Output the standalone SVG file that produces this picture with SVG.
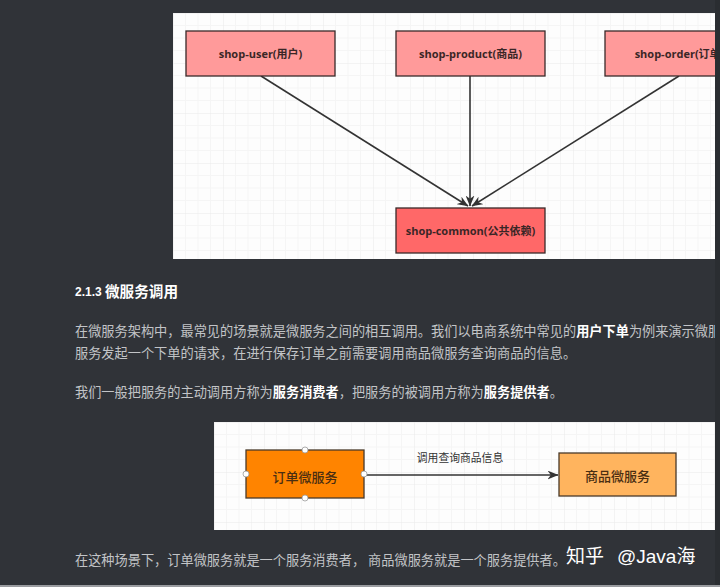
<svg xmlns="http://www.w3.org/2000/svg" width="720" height="587" viewBox="0 0 720 587">
<defs>
<style>
.bg{fill:#303338}
.panel{fill:#fdfdfd}
.box{stroke:#3a2a2a;stroke-width:1.3}
.pink{fill:#ff9a9a}
.red{fill:#ff6868}
.orange{fill:#ff8400;stroke:#4a3a2a;stroke-width:1.3}
.lorange{fill:#ffb45e;stroke:#4a3a2a;stroke-width:1.3}
.lbl{font-family:"Open Sans","Noto Sans CJK SC",sans-serif;font-weight:bold;font-size:11px;fill:#3a2626;text-anchor:middle}
.cn{font-family:"Noto Sans CJK SC",sans-serif;font-size:13px;fill:#4a2e12;text-anchor:middle;font-weight:500}
.edge{stroke:#333;stroke-width:1.6;fill:none}
.body{font-family:"Noto Sans CJK SC",sans-serif;font-size:13.2px;fill:#c2c4c7}
.b{fill:#ffffff;font-weight:bold}
.handle{fill:#ffffff;stroke:#999;stroke-width:0.8}
.wm{font-size:19px;fill:#ffffff}
</style>
<pattern id="grid" width="50" height="50" patternUnits="userSpaceOnUse" x="173" y="13">
<path d="M12.5 0V50M25 0V50M37.5 0V50M0 12.5H50M0 25H50M0 37.5H50" stroke="#f5f5f5" stroke-width="1" fill="none"/>
<path d="M0 0V50M0 0H50" stroke="#eaeaea" stroke-width="1" fill="none"/>
</pattern>
<pattern id="grid2" width="50" height="50" patternUnits="userSpaceOnUse" x="214" y="422">
<path d="M12.5 0V50M25 0V50M37.5 0V50M0 12.5H50M0 25H50M0 37.5H50" stroke="#f5f5f5" stroke-width="1" fill="none"/>
<path d="M0 0V50M0 0H50" stroke="#eaeaea" stroke-width="1" fill="none"/>
</pattern>
<clipPath id="clip1"><rect x="173" y="13" width="542" height="246"/></clipPath>
<clipPath id="clipText"><rect x="0" y="0" width="715" height="587"/></clipPath>
<marker id="arr" viewBox="0 0 10 8" refX="9.5" refY="4" markerWidth="11" markerHeight="9" markerUnits="userSpaceOnUse" orient="auto">
<path d="M0 0L10 4L0 8L3 4Z" fill="#333"/>
</marker>
</defs>

<rect class="bg" x="0" y="0" width="720" height="587"/>
<rect x="715" y="0" width="5" height="587" fill="#2a2d31"/>
<rect x="0" y="585" width="720" height="2" fill="#9a9ca0"/>

<!-- Diagram 1 -->
<g clip-path="url(#clip1)">
<rect class="panel" x="173" y="13" width="542" height="246"/>
<rect x="173" y="13" width="542" height="246" fill="url(#grid)"/>

<g id="connectors1">
<line class="edge" x1="261" y1="76" x2="468" y2="206" marker-end="url(#arr)"/>
<line class="edge" x1="470" y1="76" x2="470" y2="206" marker-end="url(#arr)"/>
<line class="edge" x1="679" y1="76" x2="472" y2="206" marker-end="url(#arr)"/>
</g>

<g id="shop-user">
<rect class="box pink" x="186" y="31" width="149" height="45"/>
<text class="lbl" x="260.5" y="58">shop-user(用户)</text>
</g>
<g id="shop-product">
<rect class="box pink" x="396" y="31" width="149" height="45"/>
<text class="lbl" x="470.5" y="58">shop-product(商品)</text>
</g>
<g id="shop-order">
<rect class="box pink" x="605" y="31" width="149" height="45"/>
<text class="lbl" x="679.5" y="58">shop-order(订单)</text>
</g>
<g id="shop-common">
<rect class="box red" x="396" y="208" width="149" height="45"/>
<text class="lbl" x="470.5" y="235">shop-common(公共依赖)</text>
</g>
</g>

<!-- Article text -->
<g id="article" clip-path="url(#clipText)">
<text x="75" y="296" font-family="Liberation Sans, sans-serif" font-weight="bold" font-size="12" fill="#ffffff">2.1.3</text>
<text x="105" y="296.5" font-family="Noto Sans CJK SC, sans-serif" font-weight="bold" font-size="14.6" fill="#ffffff">微服务调用</text>
<text class="body" x="75" y="336">在微服务架构中，最常见的场景就是微服务之间的相互调用。我们以电商系统中常见的<tspan class="b">用户下单</tspan>为例来演示微服务调用</text>
<text class="body" x="75" y="358">服务发起一个下单的请求，在进行保存订单之前需要调用商品微服务查询商品的信息。</text>
<text class="body" x="75" y="397">我们一般把服务的主动调用方称为<tspan class="b">服务消费者</tspan>，把服务的被调用方称为<tspan class="b">服务提供者</tspan>。</text>
<text class="body" x="75" y="565" font-size="13">在这种场景下，订单微服务就是一个服务消费者， 商品微服务就是一个服务提供者。</text>
</g>

<!-- Diagram 2 -->
<g id="diagram2">
<rect class="panel" x="214" y="422" width="501" height="108"/>
<rect x="214" y="422" width="501" height="108" fill="url(#grid2)"/>
<g id="connectors2">
<line class="edge" x1="364" y1="475" x2="558" y2="475" marker-end="url(#arr)"/>
<text x="460" y="462" font-family="Noto Sans CJK SC, sans-serif" font-size="10.8" fill="#333" text-anchor="middle">调用查询商品信息</text>
</g>
<g id="order-service">
<rect class="orange" x="246" y="450" width="118" height="48"/>
<text class="cn" x="305" y="481.5">订单微服务</text>
<circle class="handle" cx="305" cy="450" r="3"/>
<circle class="handle" cx="305" cy="498" r="3"/>
<circle class="handle" cx="246" cy="474" r="3"/>
<circle class="handle" cx="364" cy="474" r="3"/>
</g>
<g id="product-service">
<rect class="lorange" x="559" y="453" width="117" height="43"/>
<text class="cn" x="617.5" y="480.5">商品微服务</text>
</g>
</g>

<!-- watermark -->
<text class="wm" y="563"><tspan x="566" font-family="Noto Sans CJK SC, sans-serif">知乎</tspan><tspan x="617" font-family="Liberation Sans, sans-serif">@Java</tspan><tspan font-family="Noto Sans CJK SC, sans-serif">海</tspan></text>
</svg>
